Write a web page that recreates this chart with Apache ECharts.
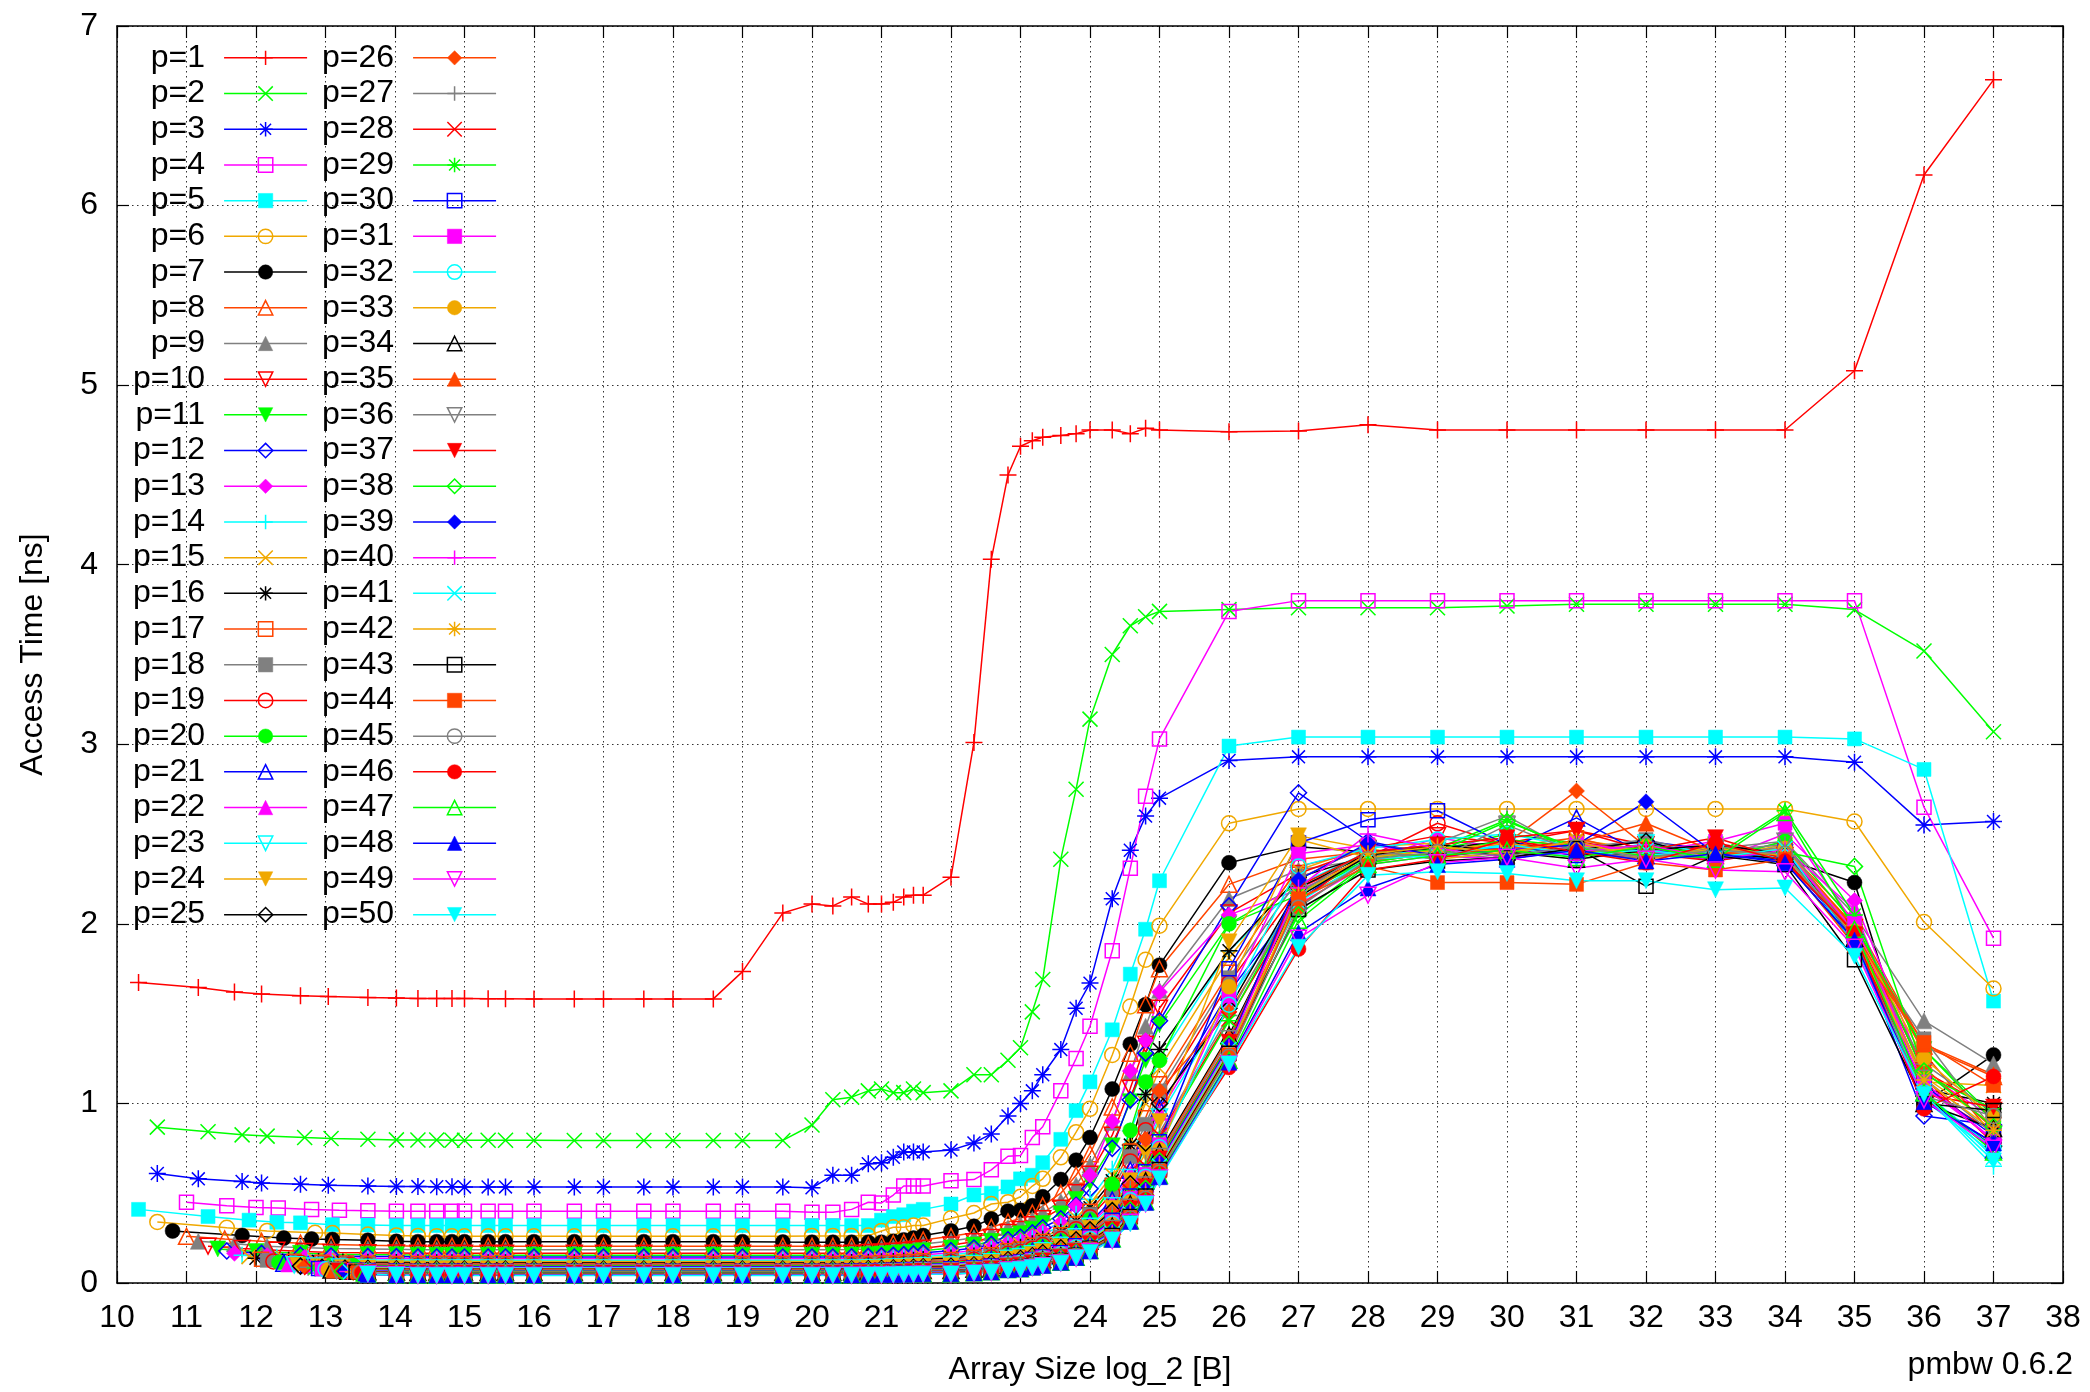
<!DOCTYPE html>
<html>
<head>
<meta charset="utf-8">
<title>pmbw access time</title>
<script src="https://cdn.jsdelivr.net/npm/echarts@6/dist/echarts.min.js"></script>
<style>
html,body{margin:0;padding:0;background:#ffffff;}
#chart{width:2090px;height:1392px;}
</style>
</head>
<body>
<div id="chart"></div>
<script>
// ---- axis ranges ----
const xAxisRange = [10, 38];
const yAxisRange = [0, 7];

// ---- shared array-size sample points (log2 bytes) ----
const sizesShared = [13.61,14.02,14.33,14.6,14.82,15,15.34,15.59,16,16.58,17,17.58,18,18.58,19,19.58,20,20.3,20.57,20.81,21,21.17,21.32,21.46,21.6,22,22.33,22.58,22.82,23,23.17,23.32,23.58,23.8,24,24.32,24.58,24.8,25,26,27,28,29,30,31,32,33,34,35,36,37];

// ---- per-series leading sizes and access times [ns] ----
const lead_p1 = [10.31,11.17,11.69,12.08,12.64,13.04];
const time_p1 = [1.673,1.645,1.62,1.61,1.60,1.595, 1.59,1.587,1.585,1.585,1.584,1.584,1.583,1.583,1.582,1.582,1.581,1.582,1.582,1.582,1.734,2.06, 2.11,2.10,2.15,2.11,2.11,2.12,2.15,2.16,2.16, 2.26,3.01,4.03,4.50,4.66,4.69,4.71,4.72,4.73,4.75,4.75,4.73,4.76,4.75, 4.74, 4.745,4.78,4.75,4.75,4.75,4.75,4.75,4.75,5.08,6.17,6.70];
const lead_p2 = [10.58,11.31,11.8,12.16,12.7,13.08];
const time_p2 = [0.868,0.842,0.825,0.818,0.81,0.805, 0.80,0.797,0.796,0.796,0.795,0.795,0.795,0.795,0.795,0.794,0.794,0.794,0.794,0.794,0.794,0.794, 0.88,1.02,1.035,1.07,1.08,1.06,1.06,1.08,1.06, 1.07,1.16,1.16,1.24,1.31,1.51,1.69,2.36,2.75,3.14,3.50,3.66,3.71,3.74, 3.75, 3.76,3.76,3.76,3.77,3.78,3.78,3.78,3.78,3.75,3.52,3.07];
const lead_p3 = [10.58,11.17,11.8,12.08,12.64,13.04];
const time_p3 = [0.61,0.58,0.565,0.557,0.55,0.545, 0.54,0.538,0.537,0.536,0.536,0.535,0.535,0.535,0.535,0.534,0.534,0.534,0.534,0.534,0.534,0.534, 0.53,0.60,0.60,0.664,0.67,0.70,0.73,0.73,0.73, 0.74,0.78,0.83,0.93,1.0,1.07,1.16,1.30,1.53,1.67,2.14,2.41,2.60,2.70, 2.91, 2.93,2.93,2.93,2.93,2.93,2.93,2.93,2.93,2.90,2.55,2.57];
const lead_p4 = [11.0,11.58,12.0,12.32,12.8,13.2];
const time_p4 = [0.45,0.43,0.42,0.418,0.41,0.405, 0.402,0.40,0.40,0.40,0.40,0.40,0.40,0.40,0.40,0.40,0.40,0.40,0.40,0.40,0.40,0.40, 0.394,0.394,0.41,0.45,0.446,0.49,0.54,0.54,0.54, 0.57,0.576,0.63,0.706,0.71,0.81,0.87,1.07,1.25,1.43,1.85,2.31,2.71,3.03, 3.74, 3.80,3.80,3.80,3.80,3.80,3.80,3.80,3.80,3.80,2.65,1.92];
const lead_p5 = [10.31,11.31,11.9,12.3,12.64,13.1];
const time_p5 = [0.41,0.37,0.35,0.338,0.335,0.325, 0.323,0.32,0.32,0.32,0.32,0.32,0.32,0.32,0.32,0.32,0.32,0.32,0.32,0.32,0.32,0.32, 0.32,0.32,0.32,0.32,0.35,0.37,0.38,0.40,0.41, 0.44,0.49,0.50,0.535,0.58,0.60,0.67,0.80,0.96,1.12,1.41,1.72,1.97,2.24, 2.99, 3.04,3.04,3.04,3.04,3.04,3.04,3.04,3.04,3.03,2.86,1.57];
const lead_p6 = [10.58,11.58,12.16,12.85,13.1];
const time_p6 = [0.34,0.307,0.29,0.28,0.278, 0.27,0.265,0.262,0.261,0.26,0.26,0.26,0.26,0.26,0.26,0.26,0.26,0.26,0.26,0.26,0.26, 0.262,0.262,0.262,0.264,0.29,0.31,0.31,0.32,0.32, 0.36,0.39,0.44,0.45,0.48,0.54,0.58,0.70,0.84,0.97,1.27,1.54,1.80,1.99, 2.56, 2.64,2.64,2.64,2.64,2.64,2.64,2.64,2.64,2.57,2.01,1.64];
const lead_p7 = [10.8,11.8,12.4,12.8,13.1];
const time_p7 = [0.29,0.265,0.25,0.245,0.242, 0.238,0.232,0.23,0.23,0.23,0.23,0.23,0.23,0.23,0.23,0.23,0.23,0.23,0.23,0.23,0.228, 0.227,0.227,0.227,0.227,0.227,0.232,0.24,0.25,0.264, 0.29,0.316,0.357,0.40,0.405,0.43,0.48,0.576,0.684,0.81,1.08,1.33,1.55,1.77, 2.34, 2.43,2.40,2.42,2.38,2.45,2.41,2.39,2.36,2.23,1.0,1.27];
const lead_p8 = [11.0,11.55,12.08,12.64,13.08];
const time_p8 = [0.26,0.245,0.232,0.222,0.215, 0.21,0.208,0.205,0.205,0.205,0.205,0.205,0.205,0.205,0.205,0.205,0.205,0.205,0.205,0.205,0.205, 0.205,0.205,0.205,0.21,0.215,0.22,0.225,0.23,0.24, 0.26,0.28,0.31,0.34,0.36,0.39,0.43,0.50,0.60,0.72,0.98,1.28,1.55,1.75, 2.22, 2.36,2.40,2.42,2.45,2.40,2.44,2.38,2.42,2.02,1.32,1.15];
const lead_p9 = [11.17,11.69,12.16,12.64,13.08];
const time_p9 = [0.232,0.218,0.205,0.197,0.192, 0.19,0.188,0.185,0.185,0.185,0.185,0.185,0.185,0.185,0.185,0.185,0.185,0.185,0.185,0.185,0.185, 0.185,0.185,0.186,0.19,0.194,0.198,0.203,0.208,0.217, 0.234,0.252,0.279,0.308,0.326,0.354,0.39,0.454,0.546,0.657,0.894,1.17,1.43,1.63, 2.14, 2.30,2.36,2.44,2.38,2.47,2.40,2.36,2.46,2.05,1.46,1.22];
const lead_p10 = [11.31,11.8,12.3,12.7,13.08];
const time_p10 = [0.205,0.192,0.182,0.175,0.17, 0.168,0.167,0.165,0.165,0.165,0.165,0.165,0.165,0.165,0.165,0.165,0.165,0.165,0.165,0.165,0.165, 0.165,0.165,0.166,0.17,0.173,0.177,0.181,0.186,0.194, 0.212,0.23,0.253,0.281,0.298,0.324,0.358,0.416,0.502,0.605,0.823,1.085,1.33,1.53, 2.06, 2.28,2.42,2.49,2.45,2.52,2.44,2.40,2.38,1.98,1.18,0.96];
const lead_p11 = [11.45,12.0,12.64,13.08];
const time_p11 = [0.19,0.175,0.165,0.16, 0.158,0.157,0.155,0.155,0.155,0.155,0.155,0.155,0.155,0.155,0.155,0.155,0.155,0.155,0.155,0.155, 0.155,0.155,0.156,0.158,0.161,0.165,0.169,0.173,0.18, 0.195,0.211,0.232,0.259,0.274,0.30,0.331,0.385,0.465,0.562,0.764,1.01,1.24,1.44, 2.0, 2.22,2.38,2.41,2.50,2.45,2.36,2.44,2.40,1.95,1.30,0.93];
const lead_p12 = [11.58,12.08,12.64,13.08];
const time_p12 = [0.178,0.165,0.155,0.15, 0.148,0.147,0.145,0.145,0.145,0.145,0.145,0.145,0.145,0.145,0.145,0.145,0.145,0.145,0.145,0.145, 0.145,0.145,0.146,0.148,0.151,0.154,0.158,0.162,0.168, 0.18,0.195,0.215,0.241,0.255,0.279,0.308,0.358,0.433,0.525,0.75,1.02,1.28,1.46, 2.1, 2.73,2.46,2.38,2.36,2.42,2.46,2.41,2.37,1.92,0.93,0.88];
const lead_p13 = [11.69,12.16,12.7,13.08];
const time_p13 = [0.165,0.153,0.144,0.14, 0.138,0.137,0.135,0.135,0.135,0.135,0.135,0.135,0.135,0.135,0.135,0.135,0.135,0.135,0.135,0.135, 0.135,0.135,0.136,0.138,0.141,0.144,0.147,0.151,0.157, 0.167,0.181,0.20,0.225,0.238,0.261,0.288,0.335,0.43,0.60,0.90,1.18,1.35,1.62, 2.05, 2.19,2.35,2.48,2.42,2.38,2.43,2.35,2.50,2.13,1.17,0.92];
const lead_p14 = [11.8,12.3,12.75,13.1];
const time_p14 = [0.155,0.143,0.135,0.131, 0.129,0.128,0.127,0.127,0.127,0.127,0.127,0.127,0.127,0.127,0.127,0.127,0.127,0.127,0.127,0.127, 0.127,0.127,0.128,0.13,0.132,0.135,0.138,0.142,0.147, 0.157,0.17,0.187,0.211,0.224,0.246,0.271,0.316,0.383,0.466,0.634,0.847,1.05,1.25, 1.85, 2.22,2.40,2.36,2.45,2.41,2.37,2.44,2.39,1.90,1.05,0.65];
const lead_p15 = [11.9,12.4,12.85,13.2];
const time_p15 = [0.147,0.135,0.127,0.124, 0.122,0.121,0.12,0.12,0.12,0.12,0.12,0.12,0.12,0.12,0.12,0.12,0.12,0.12,0.12,0.12, 0.12,0.12,0.121,0.123,0.125,0.128,0.131,0.134,0.139, 0.147,0.16,0.175,0.199,0.211,0.232,0.256,0.298,0.362,0.441,0.60,0.805,1.0,1.195, 1.81, 2.30,2.43,2.45,2.38,2.47,2.41,2.37,2.44,1.96,1.12,1.10];
const lead_p16 = [12.0,12.47,12.9,13.25];
const time_p16 = [0.138,0.127,0.12,0.117, 0.115,0.114,0.113,0.113,0.113,0.113,0.113,0.113,0.113,0.113,0.113,0.113,0.113,0.113,0.113,0.113, 0.113,0.113,0.114,0.116,0.118,0.12,0.123,0.126,0.131, 0.139,0.151,0.166,0.188,0.199,0.219,0.243,0.283,0.344,0.419,0.57,0.768,1.05,1.30, 1.85, 2.26,2.38,2.42,2.46,2.39,2.44,2.40,2.36,1.94,1.08,1.00];
const lead_p17 = [12.08,12.55,12.95,13.3];
const time_p17 = [0.132,0.121,0.115,0.112, 0.11,0.109,0.108,0.108,0.108,0.108,0.108,0.108,0.108,0.108,0.108,0.108,0.108,0.108,0.108,0.108, 0.108,0.108,0.109,0.11,0.112,0.114,0.117,0.12,0.124, 0.131,0.143,0.157,0.179,0.19,0.21,0.231,0.269,0.328,0.40,0.544,0.735,0.92,1.11, 1.73, 2.32,2.41,2.37,2.43,2.48,2.38,2.42,2.40,1.99,1.28,0.82];
const lead_p18 = [12.16,12.6,13.0,13.32];
const time_p18 = [0.126,0.116,0.11,0.107, 0.105,0.104,0.103,0.103,0.103,0.103,0.103,0.103,0.103,0.103,0.103,0.103,0.103,0.103,0.103,0.103, 0.103,0.103,0.104,0.105,0.107,0.109,0.111,0.114,0.118, 0.125,0.136,0.149,0.171,0.181,0.20,0.221,0.257,0.313,0.383,0.521,0.705,0.884,1.07, 1.70, 2.25,2.44,2.40,2.36,2.42,2.47,2.38,2.43,1.93,1.36,0.85];
const lead_p19 = [12.25,12.64,13.04,13.36];
const time_p19 = [0.12,0.111,0.105,0.102, 0.1,0.099,0.098,0.098,0.098,0.098,0.098,0.098,0.098,0.098,0.098,0.098,0.098,0.098,0.098,0.098, 0.098,0.098,0.099,0.1,0.102,0.104,0.106,0.109,0.113, 0.119,0.129,0.142,0.163,0.172,0.191,0.211,0.245,0.30,0.366,0.499,0.677,0.851,1.036, 1.67, 2.20,2.37,2.56,2.44,2.40,2.36,2.45,2.38,1.97,1.14,0.78];
const lead_p20 = [12.33,12.7,13.08,13.4];
const time_p20 = [0.115,0.106,0.1,0.097, 0.096,0.095,0.094,0.094,0.094,0.094,0.094,0.094,0.094,0.094,0.094,0.094,0.094,0.094,0.094,0.094, 0.094,0.094,0.095,0.096,0.098,0.1,0.102,0.104,0.108, 0.113,0.123,0.135,0.156,0.165,0.183,0.202,0.235,0.288,0.352,0.55,0.85,1.12,1.24, 2.0, 2.16,2.35,2.39,2.47,2.43,2.40,2.36,2.46,2.00,1.30,0.90];
const lead_p21 = [12.4,12.75,13.12];
const time_p21 = [0.11,0.101,0.096, 0.093,0.091,0.09,0.09,0.09,0.09,0.09,0.09,0.09,0.09,0.09,0.09,0.09,0.09,0.09,0.09, 0.09,0.09,0.091,0.092,0.094,0.096,0.098,0.1,0.103, 0.109,0.118,0.13,0.15,0.158,0.176,0.194,0.226,0.277,0.339,0.462,0.628,0.794,0.975, 1.62, 2.13,2.40,2.44,2.41,2.59,2.38,2.42,2.37,1.92,1.06,0.74];
const lead_p22 = [12.47,12.8,13.16];
const time_p22 = [0.106,0.098,0.093, 0.09,0.088,0.087,0.087,0.087,0.087,0.087,0.087,0.087,0.087,0.087,0.087,0.087,0.087,0.087,0.087, 0.087,0.087,0.088,0.089,0.091,0.093,0.095,0.097,0.1, 0.104,0.113,0.124,0.143,0.152,0.169,0.187,0.217,0.266,0.327,0.445,0.607,0.769,0.949, 1.59, 2.11,2.33,2.38,2.36,2.44,2.41,2.35,2.42,2.08,1.10,0.80];
const lead_p23 = [12.55,12.85,13.2];
const time_p23 = [0.101,0.094,0.089, 0.086,0.084,0.083,0.083,0.083,0.083,0.083,0.083,0.083,0.083,0.083,0.083,0.083,0.083,0.083,0.083, 0.083,0.083,0.084,0.085,0.087,0.089,0.091,0.093,0.096, 0.10,0.108,0.119,0.138,0.147,0.163,0.18,0.21,0.257,0.316,0.43,0.588,0.746,0.924, 1.57, 2.15,2.38,2.41,2.43,2.37,2.45,2.39,2.35,1.89,1.02,0.72];
const lead_p24 = [12.6,12.9,13.24];
const time_p24 = [0.098,0.09,0.085, 0.083,0.081,0.08,0.08,0.08,0.08,0.08,0.08,0.08,0.08,0.08,0.08,0.08,0.08,0.08,0.08, 0.08,0.08,0.081,0.082,0.084,0.086,0.088,0.09,0.093, 0.096,0.104,0.114,0.133,0.141,0.158,0.174,0.202,0.248,0.305,0.416,0.57,0.724,0.90, 1.90, 2.49,2.42,2.36,2.40,2.44,2.37,2.43,2.38,1.95,1.15,0.88];
const lead_p25 = [12.64,12.95,13.28];
const time_p25 = [0.094,0.087,0.082, 0.08,0.078,0.077,0.077,0.077,0.077,0.077,0.077,0.077,0.077,0.077,0.077,0.077,0.077,0.077,0.077, 0.077,0.077,0.078,0.079,0.081,0.083,0.085,0.087,0.09, 0.093,0.10,0.11,0.129,0.136,0.152,0.168,0.196,0.24,0.296,0.403,0.553,0.78,1.0, 1.53, 2.20,2.39,2.43,2.37,2.41,2.46,2.36,2.40,1.94,1.04,0.76];
const lead_p26 = [12.7,13.0,13.32];
const time_p26 = [0.092,0.085,0.08, 0.078,0.076,0.075,0.075,0.075,0.075,0.075,0.075,0.075,0.075,0.075,0.075,0.075,0.075,0.075,0.075, 0.075,0.075,0.076,0.077,0.078,0.08,0.082,0.084,0.087, 0.089,0.097,0.107,0.125,0.132,0.148,0.163,0.19,0.233,0.287,0.39,0.538,0.80,1.07, 1.51, 2.14,2.34,2.40,2.45,2.74,2.43,2.38,2.42,1.98,1.20,0.86];
const lead_p27 = [12.75,13.04,13.36];
const time_p27 = [0.088,0.081,0.077, 0.075,0.073,0.072,0.072,0.072,0.072,0.072,0.072,0.072,0.072,0.072,0.072,0.072,0.072,0.072,0.072, 0.072,0.072,0.073,0.074,0.075,0.077,0.079,0.081,0.084, 0.086,0.093,0.103,0.12,0.128,0.143,0.158,0.184,0.226,0.279,0.38,0.522,0.667,0.838, 1.49, 2.18,2.37,2.45,2.60,2.39,2.36,2.41,2.44,1.91,1.22,0.95];
const lead_p28 = [12.8,13.08,13.4];
const time_p28 = [0.086,0.079,0.075, 0.073,0.071,0.07,0.07,0.07,0.07,0.07,0.07,0.07,0.07,0.07,0.07,0.07,0.07,0.07,0.07, 0.07,0.07,0.071,0.072,0.073,0.075,0.077,0.079,0.082, 0.084,0.091,0.10,0.117,0.124,0.139,0.154,0.179,0.22,0.271,0.369,0.509,0.651,0.821, 1.47, 2.12,2.40,2.37,2.42,2.46,2.39,2.35,2.41,1.96,1.08,0.84];
const lead_p29 = [12.85,13.12,13.42];
const time_p29 = [0.083,0.077,0.073, 0.071,0.069,0.068,0.068,0.068,0.068,0.068,0.068,0.068,0.068,0.068,0.068,0.068,0.068,0.068,0.068, 0.068,0.068,0.069,0.07,0.071,0.073,0.075,0.077,0.08, 0.081,0.088,0.096,0.113,0.12,0.135,0.149,0.173,0.213,0.264,0.359,0.495,0.634,0.80, 1.46, 2.17,2.36,2.42,2.58,2.40,2.44,2.38,2.63,2.05,1.16,0.97];
const lead_p30 = [12.9,13.16,13.44];
const time_p30 = [0.081,0.075,0.071, 0.069,0.067,0.066,0.066,0.066,0.066,0.066,0.066,0.066,0.066,0.066,0.066,0.066,0.066,0.066,0.066, 0.066,0.066,0.067,0.068,0.069,0.071,0.073,0.075,0.077, 0.079,0.085,0.094,0.11,0.117,0.131,0.145,0.169,0.208,0.257,0.35,0.484,0.62,0.786, 1.75, 2.45,2.58,2.63,2.44,2.38,2.42,2.36,2.40,1.90,1.10,0.82];
const lead_p31 = [12.95,13.2,13.46];
const time_p31 = [0.078,0.072,0.069, 0.067,0.065,0.064,0.064,0.064,0.064,0.064,0.064,0.064,0.064,0.064,0.064,0.064,0.064,0.064,0.064, 0.064,0.064,0.065,0.066,0.067,0.069,0.071,0.073,0.075, 0.076,0.083,0.091,0.107,0.114,0.128,0.141,0.164,0.202,0.251,0.341,0.472,0.606,0.77, 1.6, 2.39,2.44,2.38,2.41,2.45,2.40,2.46,2.56,2.00,1.12,0.79];
const lead_p32 = [13.0,13.24,13.48];
const time_p32 = [0.076,0.07,0.067, 0.065,0.063,0.062,0.062,0.062,0.062,0.062,0.062,0.062,0.062,0.062,0.062,0.062,0.062,0.062,0.062, 0.062,0.062,0.063,0.064,0.065,0.067,0.069,0.071,0.073, 0.074,0.08,0.088,0.105,0.111,0.124,0.137,0.16,0.197,0.244,0.332,0.461,0.592,0.756, 1.55, 2.32,2.42,2.47,2.50,2.43,2.38,2.41,2.37,1.93,1.06,0.75];
const lead_p33 = [13.04,13.28,13.5];
const time_p33 = [0.074,0.068,0.065, 0.063,0.061,0.06,0.06,0.06,0.06,0.06,0.06,0.06,0.06,0.06,0.06,0.06,0.06,0.06,0.06, 0.06,0.06,0.061,0.062,0.063,0.065,0.067,0.069,0.071, 0.072,0.078,0.086,0.102,0.108,0.121,0.134,0.156,0.192,0.238,0.324,0.451,0.581,0.742, 1.65, 2.47,2.37,2.41,2.45,2.39,2.43,2.37,2.42,1.96,1.25,0.92];
const lead_p34 = [13.08,13.32];
const time_p34 = [0.072,0.066, 0.062,0.06,0.059,0.059,0.059,0.059,0.059,0.059,0.059,0.059,0.059,0.059,0.059,0.059,0.059,0.059, 0.059,0.059,0.06,0.061,0.062,0.064,0.066,0.068,0.07, 0.07,0.076,0.084,0.099,0.105,0.118,0.131,0.152,0.188,0.233,0.316,0.44,0.569,0.73, 1.38, 2.15,2.38,2.44,2.40,2.36,2.41,2.44,2.39,1.92,1.00,0.86];
const lead_p35 = [13.12,13.36];
const time_p35 = [0.071,0.065, 0.061,0.059,0.058,0.058,0.058,0.058,0.058,0.058,0.058,0.058,0.058,0.058,0.058,0.058,0.058,0.058, 0.058,0.058,0.059,0.06,0.061,0.062,0.063,0.065,0.067, 0.068,0.074,0.082,0.097,0.103,0.115,0.127,0.148,0.183,0.228,0.31,0.431,0.558,0.716, 1.37, 2.10,2.35,2.39,2.42,2.45,2.56,2.40,2.38,1.95,1.33,1.16];
const lead_p36 = [13.16,13.4];
const time_p36 = [0.069,0.063, 0.059,0.057,0.056,0.056,0.056,0.056,0.056,0.056,0.056,0.056,0.056,0.056,0.056,0.056,0.056,0.056, 0.056,0.056,0.057,0.058,0.059,0.06,0.061,0.063,0.065, 0.067,0.072,0.079,0.095,0.10,0.113,0.125,0.145,0.179,0.222,0.303,0.422,0.546,0.704, 1.36, 2.17,2.41,2.36,2.55,2.40,2.37,2.42,2.46,1.91,1.14,0.83];
const lead_p37 = [13.2,13.42];
const time_p37 = [0.067,0.062, 0.058,0.056,0.055,0.055,0.055,0.055,0.055,0.055,0.055,0.055,0.055,0.055,0.055,0.055,0.055,0.055, 0.055,0.055,0.056,0.057,0.058,0.059,0.06,0.062,0.064, 0.065,0.07,0.078,0.092,0.098,0.11,0.122,0.142,0.175,0.218,0.297,0.413,0.536,0.691, 1.34, 2.21,2.40,2.44,2.48,2.52,2.41,2.48,2.36,1.94,1.05,0.98];
const lead_p38 = [13.24,13.44];
const time_p38 = [0.066,0.061, 0.057,0.055,0.054,0.054,0.054,0.054,0.054,0.054,0.054,0.054,0.054,0.054,0.054,0.054,0.054,0.054, 0.054,0.054,0.055,0.056,0.057,0.058,0.059,0.06,0.062, 0.063,0.069,0.076,0.09,0.096,0.108,0.119,0.139,0.171,0.213,0.29,0.406,0.527,0.681, 1.33, 2.05,2.34,2.40,2.57,2.42,2.38,2.37,2.40,2.32,1.18,0.87];
const lead_p39 = [13.28,13.46];
const time_p39 = [0.065,0.06, 0.056,0.054,0.053,0.053,0.053,0.053,0.053,0.053,0.053,0.053,0.053,0.053,0.053,0.053,0.053,0.053, 0.053,0.053,0.054,0.055,0.056,0.057,0.058,0.059,0.06, 0.062,0.067,0.074,0.088,0.094,0.106,0.117,0.136,0.168,0.21,0.285,0.40,0.518,0.67, 1.32, 2.245,2.45,2.38,2.41,2.44,2.68,2.39,2.35,1.90,1.02,0.78];
const lead_p40 = [13.32,13.48];
const time_p40 = [0.064,0.059, 0.055,0.053,0.052,0.052,0.052,0.052,0.052,0.052,0.052,0.052,0.052,0.052,0.052,0.052,0.052,0.052, 0.052,0.052,0.053,0.054,0.055,0.056,0.057,0.058,0.059, 0.061,0.066,0.072,0.086,0.091,0.104,0.114,0.133,0.164,0.205,0.279,0.392,0.508,0.66, 1.31, 2.20,2.50,2.42,2.37,2.40,2.44,2.36,2.41,1.96,1.09,0.80];
const lead_p41 = [13.36];
const time_p41 = [0.062, 0.055,0.052,0.051,0.051,0.051,0.051,0.051,0.051,0.051,0.051,0.051,0.051,0.051,0.051,0.051,0.051, 0.051,0.051,0.052,0.053,0.054,0.055,0.056,0.057,0.058, 0.059,0.064,0.071,0.085,0.09,0.101,0.112,0.13,0.161,0.202,0.274,0.384,0.499,0.651, 1.30, 2.12,2.36,2.38,2.44,2.39,2.41,2.37,2.42,1.89,1.07,0.70];
const lead_p42 = [13.4];
const time_p42 = [0.061, 0.054,0.051,0.05,0.05,0.05,0.05,0.05,0.05,0.05,0.05,0.05,0.05,0.05,0.05,0.05,0.05, 0.05,0.05,0.051,0.052,0.053,0.054,0.055,0.056,0.057, 0.058,0.063,0.069,0.083,0.087,0.099,0.11,0.128,0.158,0.197,0.268,0.378,0.491,0.641, 1.29, 2.16,2.39,2.43,2.40,2.46,2.36,2.42,2.38,1.93,1.13,0.85];
const lead_p43 = [13.44];
const time_p43 = [0.06, 0.053,0.05,0.049,0.049,0.049,0.049,0.049,0.049,0.049,0.049,0.049,0.049,0.049,0.049,0.049,0.049, 0.049,0.049,0.05,0.051,0.052,0.053,0.054,0.055,0.056, 0.057,0.062,0.068,0.081,0.086,0.097,0.107,0.125,0.155,0.194,0.264,0.371,0.484,0.632, 1.28, 2.08,2.30,2.35,2.37,2.42,2.21,2.38,2.33,1.80,1.00,0.96];
const lead_p44 = [13.47];
const time_p44 = [0.059, 0.052,0.049,0.048,0.048,0.048,0.048,0.048,0.048,0.048,0.048,0.048,0.048,0.048,0.048,0.048,0.048, 0.048,0.048,0.049,0.05,0.051,0.052,0.053,0.054,0.055, 0.055,0.06,0.066,0.08,0.084,0.095,0.105,0.123,0.152,0.19,0.259,0.365,0.476,0.623, 1.27, 2.14,2.32,2.23,2.23,2.22,2.34,2.30,2.36,1.88,1.34,1.10];
const lead_p45 = [13.5];
const time_p45 = [0.058, 0.051,0.048,0.047,0.047,0.047,0.047,0.047,0.047,0.047,0.047,0.047,0.047,0.047,0.047,0.047,0.047, 0.047,0.047,0.048,0.049,0.05,0.051,0.052,0.053,0.054, 0.054,0.059,0.065,0.078,0.083,0.094,0.104,0.121,0.15,0.187,0.255,0.358,0.468,0.614, 1.26, 2.09,2.36,2.40,2.38,2.43,2.37,2.41,2.39,1.92,1.04,0.93];
const lead_p46 = [13.53];
const time_p46 = [0.057, 0.05,0.047,0.046,0.046,0.046,0.046,0.046,0.046,0.046,0.046,0.046,0.046,0.046,0.046,0.046,0.046, 0.046,0.046,0.047,0.048,0.049,0.05,0.051,0.052,0.053, 0.053,0.058,0.064,0.077,0.081,0.092,0.102,0.119,0.147,0.184,0.25,0.353,0.462,0.607, 1.20, 1.86,2.30,2.36,2.47,2.40,2.34,2.45,2.35,1.95,0.97,1.15];
const lead_p47 = [13.56];
const time_p47 = [0.056, 0.049,0.046,0.045,0.045,0.045,0.045,0.045,0.045,0.045,0.045,0.045,0.045,0.045,0.045,0.045,0.045, 0.045,0.045,0.046,0.047,0.048,0.049,0.05,0.051,0.052, 0.052,0.057,0.062,0.075,0.08,0.09,0.10,0.116,0.144,0.181,0.246,0.347,0.454,0.599, 1.24, 2.02,2.33,2.38,2.41,2.37,2.43,2.36,2.62,1.97,1.06,0.73];
const lead_p48 = [13.58];
const time_p48 = [0.055, 0.048,0.045,0.044,0.044,0.044,0.044,0.044,0.044,0.044,0.044,0.044,0.044,0.044,0.044,0.044,0.044, 0.044,0.044,0.045,0.046,0.047,0.048,0.049,0.05,0.051, 0.051,0.056,0.061,0.074,0.078,0.088,0.098,0.115,0.142,0.178,0.242,0.343,0.448,0.592, 1.23, 1.95,2.20,2.33,2.36,2.41,2.35,2.39,2.34,1.91,1.01,0.78];
const lead_p49 = [];
const time_p49 = [0.052,0.046,0.043,0.043,0.043,0.043,0.043,0.043,0.043,0.043,0.043,0.043,0.043,0.043,0.043,0.043, 0.043,0.043,0.044,0.045,0.046,0.047,0.048,0.049,0.05, 0.05,0.055,0.06,0.073,0.077,0.087,0.096,0.112,0.139,0.175,0.238,0.338,0.442,0.585, 1.22, 1.92,2.16,2.34,2.37,2.31,2.36,2.30,2.29,1.87,1.02,0.75];
const lead_p50 = [];
const time_p50 = [0.05,0.045,0.042,0.042,0.042,0.042,0.042,0.042,0.042,0.042,0.042,0.042,0.042,0.042,0.042,0.042, 0.042,0.042,0.043,0.044,0.045,0.046,0.047,0.048,0.049, 0.05,0.055,0.06,0.07,0.075,0.085,0.095,0.11,0.14,0.17,0.24,0.33,0.44,0.58, 1.22, 1.87,2.27,2.29,2.28,2.24,2.24,2.19,2.20,1.82,1.05,0.68];

const leadList = [lead_p1,lead_p2,lead_p3,lead_p4,lead_p5,lead_p6,lead_p7,lead_p8,lead_p9,lead_p10,lead_p11,lead_p12,lead_p13,lead_p14,lead_p15,lead_p16,lead_p17,lead_p18,lead_p19,lead_p20,lead_p21,lead_p22,lead_p23,lead_p24,lead_p25,lead_p26,lead_p27,lead_p28,lead_p29,lead_p30,lead_p31,lead_p32,lead_p33,lead_p34,lead_p35,lead_p36,lead_p37,lead_p38,lead_p39,lead_p40,lead_p41,lead_p42,lead_p43,lead_p44,lead_p45,lead_p46,lead_p47,lead_p48,lead_p49,lead_p50];
const timeList = [time_p1,time_p2,time_p3,time_p4,time_p5,time_p6,time_p7,time_p8,time_p9,time_p10,time_p11,time_p12,time_p13,time_p14,time_p15,time_p16,time_p17,time_p18,time_p19,time_p20,time_p21,time_p22,time_p23,time_p24,time_p25,time_p26,time_p27,time_p28,time_p29,time_p30,time_p31,time_p32,time_p33,time_p34,time_p35,time_p36,time_p37,time_p38,time_p39,time_p40,time_p41,time_p42,time_p43,time_p44,time_p45,time_p46,time_p47,time_p48,time_p49,time_p50];
const seriesNames = timeList.map((_, i) => 'p=' + (i + 1));

// ---- styling ----
const FONT = '"Liberation Sans", Arial, Helvetica, sans-serif';
const FS = 32;
const palette = ['#ff0000', '#00ff00', '#0000ff', '#ff00ff', '#00ffff', '#f0a800', '#000000', '#ff4500', '#808080'];
const PLUS = 'path://M5,0L5,10M0,5L10,5';
const CROSS = 'path://M0,0L10,10M0,10L10,0';
const STAR = 'path://M5,0L5,10M0,5L10,5M1.2,1.2L8.8,8.8M1.2,8.8L8.8,1.2';
const TRI = 'path://M5,0L10,8.66L0,8.66Z';
const ITRI = 'path://M0,0L10,0L5,8.66Z';
const markers = [
  {sym: PLUS, kind: 'stroke', size: 17},
  {sym: CROSS, kind: 'stroke', size: 15},
  {sym: STAR, kind: 'stroke', size: 17},
  {sym: 'rect', kind: 'open', size: 14},
  {sym: 'rect', kind: 'fill', size: 14},
  {sym: 'circle', kind: 'open', size: 15},
  {sym: 'circle', kind: 'fill', size: 15},
  {sym: TRI, kind: 'open', size: 16},
  {sym: TRI, kind: 'fill', size: 16},
  {sym: ITRI, kind: 'open', size: 16},
  {sym: ITRI, kind: 'fill', size: 16},
  {sym: 'diamond', kind: 'open', size: 16},
  {sym: 'diamond', kind: 'fill', size: 16}
];
function itemStyleFor(kind, c) {
  if (kind === 'fill') return {color: c, borderColor: c, borderWidth: 0.5};
  return {color: 'none', borderColor: c, borderWidth: 1.5};
}

const series = [];
const legendItems = [];
timeList.forEach((times, i) => {
  const xs = leadList[i].concat(sizesShared);
  const n = Math.min(xs.length, times.length);
  const data = [];
  for (let k = 0; k < n; k++) data.push([xs[k], times[k]]);
  const c = palette[i % palette.length];
  const m = markers[i % markers.length];
  const ist = itemStyleFor(m.kind, c);
  series.push({
    name: seriesNames[i],
    type: 'line',
    data: data,
    symbol: m.sym,
    symbolSize: m.size,
    showSymbol: true,
    showAllSymbol: true,
    lineStyle: {color: c, width: 1.5},
    itemStyle: ist,
    emphasis: {disabled: true},
    silent: true,
    animation: false,
    xAxisIndex: 0,
    yAxisIndex: 0
  });
  legendItems.push({name: seriesNames[i], itemStyle: ist, lineStyle: {color: c, width: 1.5}});
});

function legendCfg(items, left) {
  return {
    data: items,
    orient: 'vertical',
    left: left,
    top: 40,
    align: 'right',
    itemWidth: 83,
    itemHeight: 18,
    itemGap: 0,
    padding: 0,
    selectedMode: false,
    textStyle: {fontSize: FS, fontFamily: FONT, color: '#000', lineHeight: 35.7, padding: [0, 14, 0, 0]}
  };
}

const axisLine = {show: true, onZero: false, lineStyle: {color: '#000', width: 1.5}};
const axisTick = {show: true, inside: true, length: 12, lineStyle: {color: '#000', width: 1.2}};
const gridLine = {show: true, lineStyle: {color: '#333', width: 1, type: [1.5, 3.5]}};

const option = {
  backgroundColor: '#ffffff',
  animation: false,
  textStyle: {fontFamily: FONT},
  title: {text: 'pmbw 0.6.2', right: 17, top: 1349, padding: 0,
          textStyle: {fontSize: FS, fontWeight: 'normal', color: '#000', fontFamily: FONT}},
  grid: {left: 117, right: 27, top: 26, bottom: 109, containLabel: false, outerBoundsMode: 'none'},
  legend: [legendCfg(legendItems.slice(0, 25), 133), legendCfg(legendItems.slice(25), 322)],
  xAxis: [
    {type: 'value', min: xAxisRange[0], max: xAxisRange[1], interval: 1, position: 'bottom',
     name: 'Array Size log_2 [B]', nameLocation: 'middle', nameGap: 71,
     nameTextStyle: {fontSize: FS, color: '#000', fontFamily: FONT},
     axisLine: axisLine, axisTick: axisTick,
     axisLabel: {fontSize: FS, color: '#000', margin: 19, fontFamily: FONT},
     splitLine: gridLine},
    {type: 'value', min: xAxisRange[0], max: xAxisRange[1], interval: 1, position: 'top',
     axisLine: axisLine, axisTick: axisTick, axisLabel: {show: false}, splitLine: {show: false}}
  ],
  yAxis: [
    {type: 'value', min: yAxisRange[0], max: yAxisRange[1], interval: 1, position: 'left',
     name: 'Access Time [ns]', nameLocation: 'middle', nameGap: 68,
     nameTextStyle: {fontSize: FS, color: '#000', fontFamily: FONT},
     axisLine: axisLine, axisTick: axisTick,
     axisLabel: {fontSize: FS, color: '#000', margin: 19, fontFamily: FONT},
     splitLine: gridLine},
    {type: 'value', min: yAxisRange[0], max: yAxisRange[1], interval: 1, position: 'right',
     axisLine: axisLine, axisTick: axisTick, axisLabel: {show: false}, splitLine: {show: false}}
  ],
  series: series
};

const chart = echarts.init(document.getElementById('chart'), null, {renderer: 'canvas'});
chart.setOption(option);
</script>
</body>
</html>
